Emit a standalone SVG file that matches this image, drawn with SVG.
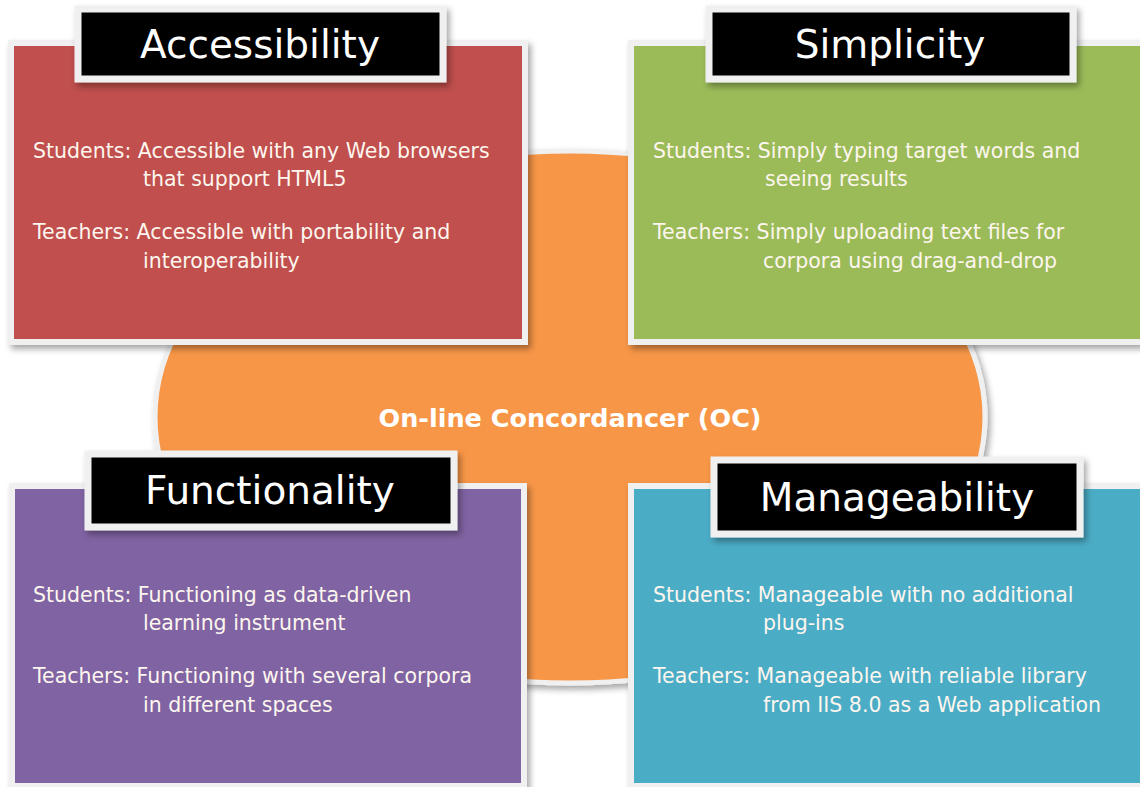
<svg xmlns="http://www.w3.org/2000/svg" width="1140" height="787" viewBox="0 0 1140 787">
<defs>
<filter id="sh" x="-10%" y="-10%" width="130%" height="130%">
<feDropShadow dx="3" dy="4" stdDeviation="3" flood-color="#000" flood-opacity="0.35"/>
</filter>
<style>
.frame{stroke:#f0f0f0;stroke-width:6;filter:url(#sh)}
.tframe{fill:#000;stroke:#f0f0f0;stroke-width:7;filter:url(#sh)}
.title{font-family:"DejaVu Sans","Liberation Sans",sans-serif;font-size:39px;fill:#fff;text-anchor:middle}
.body{font-family:"DejaVu Sans","Liberation Sans",sans-serif;font-size:20.5px;fill:#fdf6ee}
.center{font-family:"DejaVu Sans","Liberation Sans",sans-serif;font-size:25.5px;font-weight:bold;fill:#fff;text-anchor:middle}
</style>
</defs>
<rect width="1140" height="787" fill="#fff"/>
<g id="hub">
<ellipse cx="570" cy="417" rx="415" ry="266" fill="#f79646" stroke="#f0f0f0" stroke-width="5" filter="url(#sh)"/>
<text class="center" x="570" y="427">On-line Concordancer (OC)</text>
</g>
<g id="connectors"></g>
<g id="accessibility">
<rect class="frame" x="11" y="43" width="514" height="299" fill="#c0504d"/>
<rect class="tframe" x="78" y="9" width="365" height="70"/>
<text class="title" x="260" y="58">Accessibility</text>
<text class="body" x="33" y="158">Students: Accessible with any Web browsers</text>
<text class="body" x="143" y="186">that support HTML5</text>
<text class="body" x="33" y="239">Teachers: Accessible with portability and</text>
<text class="body" x="143" y="268">interoperability</text>
</g>
<g id="simplicity">
<rect class="frame" x="631" y="43" width="520" height="299" fill="#9bbb59"/>
<rect class="tframe" x="709" y="9" width="364" height="70"/>
<text class="title" x="890" y="58">Simplicity</text>
<text class="body" x="653" y="158">Students: Simply typing target words and</text>
<text class="body" x="765" y="186">seeing results</text>
<text class="body" x="653" y="239">Teachers: Simply uploading text files for</text>
<text class="body" x="763" y="268">corpora using drag-and-drop</text>
</g>
<g id="functionality">
<rect class="frame" x="12" y="486" width="512" height="300" fill="#8064a2"/>
<rect class="tframe" x="88" y="454" width="366" height="73"/>
<text class="title" x="270" y="504">Functionality</text>
<text class="body" x="33" y="602">Students: Functioning as data-driven</text>
<text class="body" x="143" y="630">learning instrument</text>
<text class="body" x="33" y="683">Teachers: Functioning with several corpora</text>
<text class="body" x="143" y="712">in different spaces</text>
</g>
<g id="manageability">
<rect class="frame" x="631" y="486" width="520" height="300" fill="#4bacc6"/>
<rect class="tframe" x="714" y="460" width="366" height="74"/>
<text class="title" x="897" y="511">Manageability</text>
<text class="body" x="653" y="602">Students: Manageable with no additional</text>
<text class="body" x="763" y="630">plug-ins</text>
<text class="body" x="653" y="683">Teachers: Manageable with reliable library</text>
<text class="body" x="763" y="712">from IIS 8.0 as a Web application</text>
</g>
</svg>
